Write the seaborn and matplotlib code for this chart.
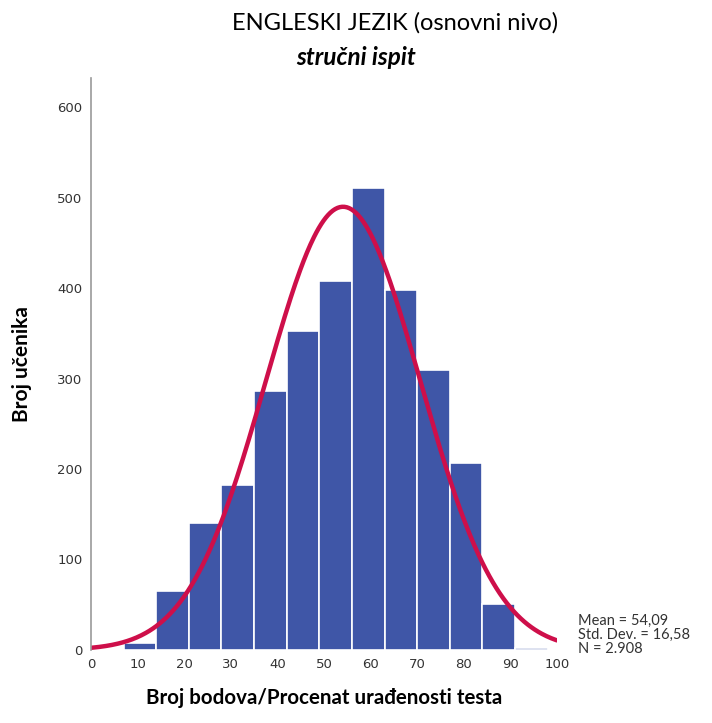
import numpy as np
import pandas as pd
import seaborn as sns
from matplotlib import pyplot as plt

# bin edges (width 7) and counts
bin_edges = [0, 7, 14, 21, 28, 35, 42, 49, 56, 63, 70, 77, 84, 91, 98]
counts = [1, 8, 65, 140, 182, 286, 352, 408, 510, 398, 309, 207, 51, 2]
mean_val = 54.09
std_val = 16.58
n_total = 2908
x_ticks = [0, 10, 20, 30, 40, 50, 60, 70, 80, 90, 100]
y_ticks = [0, 100, 200, 300, 400, 500, 600]

sns.set_style("white")
plt.rcParams['font.family'] = ['Lato', 'DejaVu Sans']

df = pd.DataFrame({'mid': np.array(bin_edges[:-1]) + 3.5, 'cnt': counts})

fig = plt.figure(figsize=(7.12, 7.23), dpi=100)
ax = fig.add_axes([0.1278, 0.101, 0.6545, 0.791])

sns.histplot(data=df, x='mid', weights='cnt', bins=bin_edges, ax=ax,
             color='#3F56A7', alpha=1, edgecolor='white', linewidth=1.2)

# normal curve scaled to counts per bin
xs = np.linspace(0, 100, 400)
ys = n_total * 7 * np.exp(-0.5 * ((xs - mean_val) / std_val) ** 2) / (std_val * np.sqrt(2 * np.pi))
sns.lineplot(x=xs, y=ys, ax=ax, color='#CE0F4A', linewidth=3.2)

ax.set_xlim(0, 100)
ax.set_ylim(0, 632)
ax.set_xticks(x_ticks)
ax.set_yticks(y_ticks)
ax.tick_params(length=0, labelsize=9.5, labelcolor='#333333', pad=6)
for lab in ax.get_xticklabels() + ax.get_yticklabels():
    lab.set_family('DejaVu Sans')
for s in ['top', 'right', 'bottom']:
    ax.spines[s].set_visible(False)
ax.spines['left'].set_color('#999999')
ax.spines['left'].set_linewidth(1.2)

ax.set_xlabel('Broj bodova/Procenat urađenosti testa', fontsize=14.8, fontweight='bold',
              labelpad=12, color='black')
ax.set_ylabel('Broj učenika', fontsize=15, fontweight='bold', labelpad=18, color='black')

fig.text(0.555, 0.969, 'ENGLESKI JEZIK (osnovni nivo)', ha='center', va='center',
         fontsize=17, color='black')
fig.text(0.50, 0.920, 'stručni ispit', ha='center', va='center', fontsize=17.5,
         fontstyle='italic', fontweight='bold', color='black')

fig.text(0.812, 0.122, 'Mean = 54,09\nStd. Dev. = 16,58\nN = 2.908', ha='left', va='center',
         fontsize=10.5, color='#333333', linespacing=1.0)

plt.savefig('out.png', dpi=100)
